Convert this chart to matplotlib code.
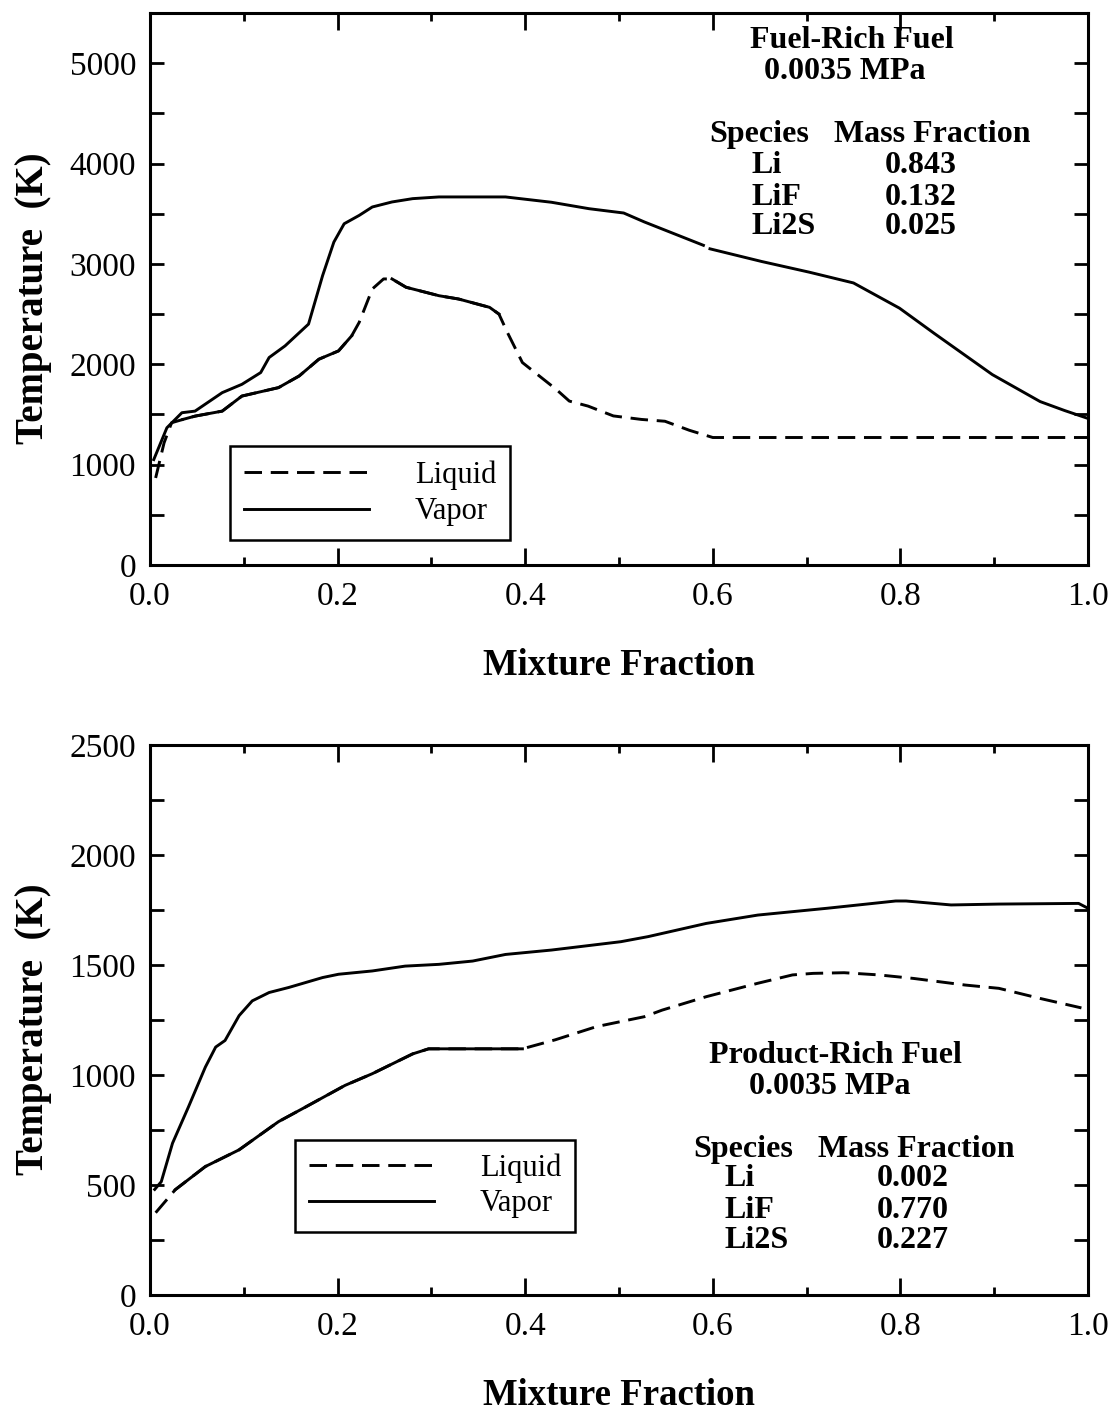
import numpy as np
import matplotlib
matplotlib.use("Agg")
import matplotlib.pyplot as plt
from matplotlib.ticker import MultipleLocator, FixedLocator

plt.rcParams['font.family'] = ['Liberation Serif', 'DejaVu Serif']

# ---- fuel-rich fuel (top panel) ----
top_vap_x = [0.004, 0.018, 0.034, 0.048, 0.077, 0.098, 0.118, 0.127, 0.144, 0.169,
             0.184, 0.196, 0.207, 0.223, 0.237, 0.258, 0.280, 0.308, 0.379, 0.428,
             0.468, 0.505, 0.527, 0.590, 0.594, 0.597, 0.652, 0.703, 0.750, 0.799,
             0.836, 0.898, 0.949, 0.975, 1.000]
top_vap_T = [1050, 1367, 1517, 1533, 1717, 1800, 1917, 2067, 2183, 2400,
             2883, 3217, 3400, 3483, 3567, 3617, 3650, 3667, 3667, 3614,
             3550, 3507, 3418, 3185, np.nan, 3150, 3024, 2917, 2810, 2559,
             2308, 1897, 1628, 1539, 1460]

top_liq_x = [0.006, 0.015, 0.023, 0.035, 0.048, 0.077, 0.098, 0.137, 0.159, 0.180,
             0.201, 0.215, 0.223, 0.237, 0.249, 0.258, 0.273, 0.308, 0.329, 0.362,
             0.372, 0.381, 0.397, 0.433, 0.447, 0.467, 0.494, 0.524, 0.549, 0.575,
             0.600, 0.700, 0.800, 0.900, 1.000]
top_liq_T = [867, 1217, 1417, 1450, 1483, 1533, 1683, 1767, 1883, 2050,
             2133, 2283, 2417, 2750, 2850, 2850, 2767, 2683, 2650, 2567,
             2500, 2317, 2017, 1750, 1633, 1583, 1485, 1450, 1432, 1342,
             1270, 1270, 1270, 1270, 1270]

# ---- product-rich fuel (bottom panel) ----
bot_vap_x = [0.005, 0.012, 0.024, 0.041, 0.059, 0.070, 0.080, 0.095, 0.109, 0.127,
             0.148, 0.184, 0.201, 0.237, 0.272, 0.308, 0.344, 0.379, 0.428, 0.502,
             0.531, 0.593, 0.648, 0.722, 0.795, 0.806, 0.854, 0.905, 0.990, 1.000]
bot_vap_T = [480, 515, 690, 855, 1036, 1127, 1157, 1270, 1337, 1375,
             1398, 1443, 1458, 1473, 1495, 1503, 1518, 1548, 1568, 1606,
             1629, 1689, 1727, 1758, 1791, 1791, 1773, 1777, 1780, 1758]

bot_liq_x = [0.006, 0.027, 0.059, 0.095, 0.137, 0.166, 0.208, 0.237, 0.280, 0.297,
             0.344, 0.397, 0.432, 0.476, 0.527, 0.546, 0.593, 0.648, 0.685, 0.707,
             0.740, 0.777, 0.814, 0.869, 0.905, 0.949, 0.993]
bot_liq_T = [374, 479, 584, 660, 788, 855, 953, 1006, 1096, 1119,
             1119, 1119, 1160, 1220, 1265, 1295, 1356, 1417, 1455, 1462,
             1465, 1455, 1439, 1409, 1394, 1348, 1305]

species = ['Li', 'LiF', 'Li2S']
top_frac = ['0.843', '0.132', '0.025']
bot_frac = ['0.002', '0.770', '0.227']

LW = 2.1
DASH = (0, (6, 3))


def style_axes(ax, ymax, ystep):
    ax.set_xlim(0, 1.0)
    ax.set_ylim(0, ymax)
    ax.xaxis.set_minor_locator(MultipleLocator(0.1))
    ax.yaxis.set_minor_locator(MultipleLocator(ystep))
    ax.tick_params(which='both', direction='in', top=True, right=True, width=2,
                   labelsize=24, pad=10)
    ax.tick_params(axis='x', which='major', length=12, pad=12)
    ax.tick_params(axis='x', which='minor', length=6)
    ax.tick_params(axis='y', which='both', length=10)
    ax.set_xticks(np.arange(0, 1.01, 0.2))
    ax.set_xticklabels(['0.0', '0.2', '0.4', '0.6', '0.8', '1.0'])
    for s in ax.spines.values():
        s.set_linewidth(2.2)
    ax.set_xlabel('Mixture Fraction', fontsize=26.5, fontweight='bold', labelpad=26)
    ax.set_ylabel('Temperature  (K)', fontsize=28, fontweight='bold')
    ax.yaxis.set_label_coords(-0.105, 0.484)


def draw_curves(ax, vx, vT, lx, lT, solid_parts):
    vx, vT, lx, lT = map(np.asarray, (vx, vT, lx, lT))
    ax.plot(lx, lT, color='black', lw=LW, linestyle=DASH, label='Liquid')
    for a, b in solid_parts:
        m = (lx >= a) & (lx <= b)
        ax.plot(lx[m], lT[m], color='black', lw=LW)
    ax.plot(vx, vT, color='black', lw=LW, label='Vapor')


def info_block(ax, title, x_title, y_title, x_press, y_press, y_head, x_sp, x_mf,
               x_name, x_val, rows_y, fracs):
    kw = dict(fontsize=23, fontweight='bold', va='center')
    ax.text(x_title, y_title, title, ha='center', **kw)
    ax.text(x_press, y_press, '0.0035 MPa', ha='center', **kw)
    ax.text(x_sp, y_head, 'Species', ha='left', **kw)
    ax.text(x_mf, y_head, 'Mass Fraction', ha='left', **kw)
    for name, val, y in zip(species, fracs, rows_y):
        ax.text(x_name, y, name, ha='left', **kw)
        ax.text(x_val, y, val, ha='center', **kw)


def add_legend(ax, anchor, spacing):
    leg = ax.legend(loc='lower left', bbox_to_anchor=anchor, fontsize=22,
                    handlelength=4.1, handletextpad=1.5, borderpad=0.45,
                    labelspacing=spacing, fancybox=False, framealpha=1,
                    borderaxespad=0)
    leg.get_frame().set_edgecolor('black')
    leg.get_frame().set_linewidth(1.8)


fig = plt.figure(figsize=(11.12, 14.11), dpi=100)

ax1 = fig.add_axes([0.1349, 0.5996, 0.8435, 0.3912])
draw_curves(ax1, top_vap_x, top_vap_T, top_liq_x, top_liq_T,
            [(0.03, 0.22), (0.25, 0.38)])
style_axes(ax1, 5500, 500)
ax1.yaxis.set_major_locator(FixedLocator([0, 1000, 2000, 3000, 4000, 5000]))
info_block(ax1, 'Fuel-Rich Fuel', 0.748, 5230, 0.741, 4915, 4285, 0.596, 0.729,
           0.641, 0.822, [3980, 3660, 3375], top_frac)
add_legend(ax1, (0.0853, 0.0453), 0.25)

ax2 = fig.add_axes([0.1349, 0.0822, 0.8435, 0.3898])
draw_curves(ax2, bot_vap_x, bot_vap_T, bot_liq_x, bot_liq_T, [(0.025, 0.40)])
style_axes(ax2, 2500, 250)
ax2.yaxis.set_major_locator(MultipleLocator(500))
info_block(ax2, 'Product-Rich Fuel', 0.731, 1088, 0.725, 950, 660, 0.579, 0.712,
           0.612, 0.813, [528, 384, 247], bot_frac)
add_legend(ax2, (0.1546, 0.1145), 0.2)

fig.savefig('out.png', dpi=100)
